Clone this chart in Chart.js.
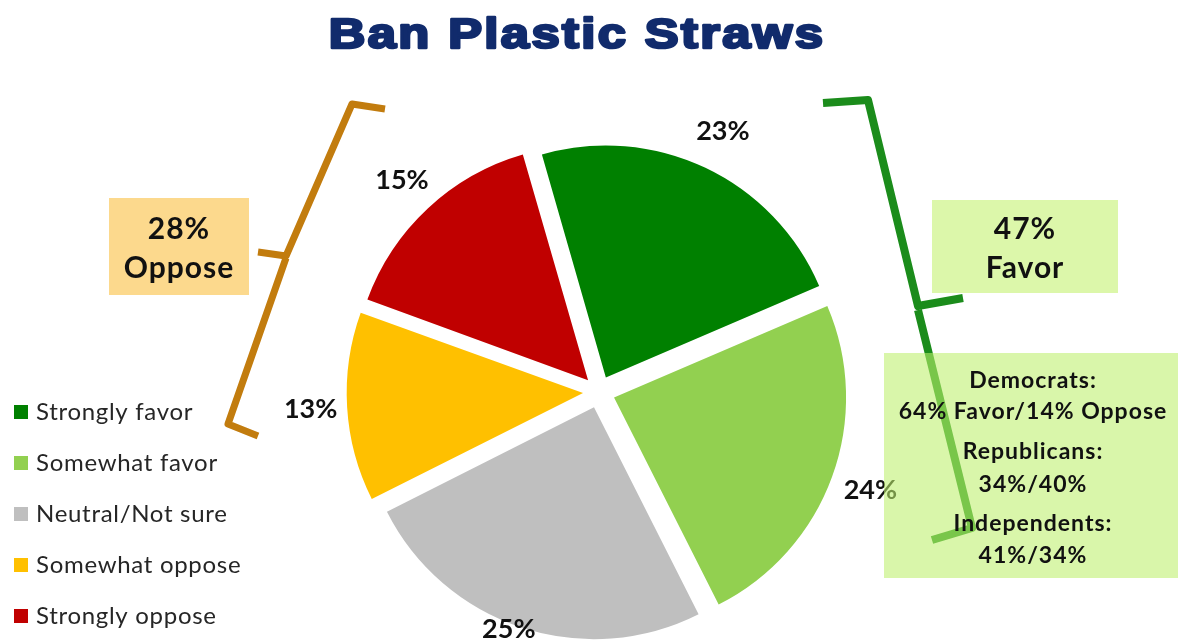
<!DOCTYPE html>
<html><head><meta charset="utf-8">
<script src="https://cdn.jsdelivr.net/npm/chart.js@4/dist/chart.umd.min.js"></script>
<style>html,body{margin:0;padding:0;background:#fff;overflow:hidden}</style>
</head><body>
<canvas id="c" width="1178" height="641"></canvas>
<script>
const categories = ['Strongly favor', 'Somewhat favor', 'Neutral/Not sure', 'Somewhat oppose', 'Strongly oppose'];
const values = [23, 24, 25, 13, 15];
const colors = ['#008000', '#92d050', '#bfbfbf', '#ffc000', '#c00000'];
const titleText = 'Ban Plastic Straws';
const opposeLines = ['28%', 'Oppose'];
const favorLines = ['47%', 'Favor'];
const partyLines = ['Democrats:', '64% Favor/14% Oppose', 'Republicans:', '34%/40%', 'Independents:', '41%/34%'];

const W = 1178, H = 641;

function polyline(ctx, pts, color, width) {
  ctx.save();
  ctx.strokeStyle = color; ctx.lineWidth = width;
  ctx.lineJoin = 'round'; ctx.lineCap = 'butt';
  ctx.beginPath();
  ctx.moveTo(pts[0][0], pts[0][1]);
  for (let i = 1; i < pts.length; i++) ctx.lineTo(pts[i][0], pts[i][1]);
  ctx.stroke();
  ctx.restore();
}
function textLines(ctx, lines, x, ys, font, color, spacing) {
  ctx.save();
  ctx.font = font; ctx.fillStyle = color;
  ctx.textAlign = 'center'; ctx.textBaseline = 'middle';
  if (spacing) ctx.letterSpacing = spacing;
  lines.forEach((t, i) => ctx.fillText(t, x, ys[i]));
  ctx.restore();
}

const decor = {
  id: 'decor',
  afterDatasetsDraw(chart) {
    const ctx = chart.ctx;
    const meta = chart.getDatasetMeta(0);
    ctx.save();
    ctx.font = 'bold 27px Lato';
    ctx.fillStyle = '#111';
    ctx.textAlign = 'center'; ctx.textBaseline = 'middle';
    meta.data.forEach((arc, i) => {
      const p = arc.getProps(['x', 'y', 'startAngle', 'endAngle', 'outerRadius'], true);
      const mid = (p.startAngle + p.endAngle) / 2;
      const r = p.outerRadius * 1.245;
      let x = p.x + Math.cos(mid) * r;
      let y = p.y + Math.sin(mid) * r;
      if (y > H - 12) y = H - 12;
      ctx.fillText(values[i] + '%', x, y);
    });
    ctx.restore();
  },
  afterDraw(chart) {
    const ctx = chart.ctx;
    // title
    ctx.save();
    ctx.translate(577, 48);
    ctx.scale(1.18, 1);
    ctx.font = 'bold 43px "Liberation Sans"';
    ctx.letterSpacing = '2px';
    ctx.fillStyle = '#112b6c'; ctx.strokeStyle = '#112b6c'; ctx.lineWidth = 2.6;
    ctx.lineJoin = 'round';
    ctx.textAlign = 'center'; ctx.textBaseline = 'alphabetic';
    ctx.fillText(titleText, 0, 0);
    ctx.strokeText(titleText, 0, 0);
    ctx.restore();

    // legend
    ctx.save();
    ctx.font = '24px Lato';
    ctx.letterSpacing = '0.7px';
    ctx.textBaseline = 'middle'; ctx.textAlign = 'left';
    categories.forEach((c, i) => {
      const y = 412 + i * 51;
      ctx.fillStyle = colors[i];
      ctx.fillRect(14, y - 7, 14, 14);
      ctx.fillStyle = '#262626';
      ctx.fillText(c, 36, y);
    });
    ctx.restore();

    // oppose box + brace
    ctx.fillStyle = '#fcd98d';
    ctx.fillRect(109, 198, 140, 97);
    textLines(ctx, opposeLines, 179, [229, 268], 'bold 30px Lato', '#111', '1px');
    polyline(ctx, [[385, 109], [352, 104], [286, 256], [258, 252]], '#c27c0e', 7);
    polyline(ctx, [[286, 258], [228, 424], [258, 436]], '#c27c0e', 7);

    // favor box + brace
    ctx.fillStyle = '#dcf7aa';
    ctx.fillRect(932, 200, 186, 93);
    textLines(ctx, favorLines, 1025, [229, 268], 'bold 30px Lato', '#111', '1px');
    polyline(ctx, [[823, 103], [868, 100], [918, 306], [963, 298]], '#1b8c1b', 8);
    polyline(ctx, [[918, 310], [972, 528], [932, 540]], '#1b8c1b', 8);

    // party box (semi transparent over brace)
    ctx.fillStyle = 'rgba(190,239,108,0.58)';
    ctx.fillRect(884, 353, 294, 225);
    textLines(ctx, partyLines, 1033, [381, 412, 452, 485, 524, 556], 'bold 23px Lato', '#111', '1px');
  }
};

new Chart(document.getElementById('c'), {
  type: 'pie',
  data: {
    labels: categories,
    datasets: [{
      data: values,
      backgroundColor: colors,
      borderWidth: 0,
      offset: 64,
      hoverOffset: 64,
      clip: false
    }]
  },
  options: {
    responsive: false,
    animation: false,
    rotation: -16,
    radius: 232,
    layout: { padding: { left: 400, right: W - 798, top: 292, bottom: H - 492 } },
    plugins: { legend: { display: false }, title: { display: false }, tooltip: { enabled: false } },
    events: []
  },
  plugins: [decor]
});
</script>
</body></html>
